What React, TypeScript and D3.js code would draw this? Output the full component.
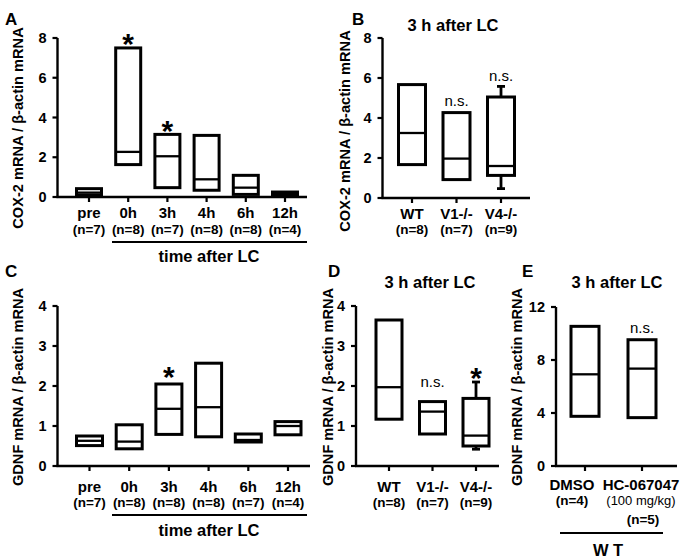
import React from "react";
import * as d3 from "d3";

// ---------- DATA ----------
const timeCats = ["pre", "0h", "3h", "4h", "6h", "12h"];

const A_n = ["(n=7)", "(n=8)", "(n=7)", "(n=8)", "(n=8)", "(n=4)"];
const A_q1 = [0.1, 1.63, 0.47, 0.34, 0.13, 0.08];
const A_med = [0.22, 2.27, 2.05, 0.89, 0.47, 0.17];
const A_q3 = [0.42, 7.5, 3.15, 3.1, 1.09, 0.25];
const A_sig = ["", "*", "*", "", "", ""];
const A_ticks = [0, 2, 4, 6, 8];

const B_cats = ["WT", "V1-/-", "V4-/-"];
const B_n = ["(n=8)", "(n=7)", "(n=9)"];
const B_q1 = [1.67, 0.92, 1.13];
const B_med = [3.25, 1.97, 1.6];
const B_q3 = [5.67, 4.27, 5.05];
const B_lo = [null, null, 0.47];
const B_hi = [null, null, 5.58];
const B_sig = ["", "n.s.", "n.s."];
const B_ticks = [0, 2, 4, 6, 8];

const C_n = ["(n=7)", "(n=8)", "(n=8)", "(n=8)", "(n=7)", "(n=4)"];
const C_q1 = [0.51, 0.43, 0.79, 0.73, 0.6, 0.78];
const C_med = [0.63, 0.61, 1.43, 1.47, 0.65, 1.0];
const C_q3 = [0.75, 1.03, 2.05, 2.57, 0.8, 1.11];
const C_sig = ["", "", "*", "", "", ""];
const C_ticks = [0, 1, 2, 3, 4];

const D_cats = ["WT", "V1-/-", "V4-/-"];
const D_n = ["(n=8)", "(n=7)", "(n=9)"];
const D_q1 = [1.17, 0.8, 0.5];
const D_med = [1.97, 1.36, 0.76];
const D_q3 = [3.65, 1.61, 1.69];
const D_lo = [null, null, 0.42];
const D_hi = [null, null, 2.1];
const D_sig = ["", "n.s.", "*"];
const D_ticks = [0, 1, 2, 3, 4];

const E_cats = ["DMSO", "HC-067047"];
const E_sub = ["(n=4)", "(100 mg/kg)"];
const E_n = ["", "(n=5)"];
const E_q1 = [3.75, 3.65];
const E_med = [6.92, 7.35];
const E_q3 = [10.54, 9.53];
const E_sig = ["", "n.s."];
const E_ticks = [0, 4, 8, 12];

const FONT = "'Liberation Sans', Arial, Helvetica, sans-serif";

type PanelProps = {
  cats: string[];
  q1: number[];
  med: number[];
  q3: number[];
  lo?: (number | null)[];
  hi?: (number | null)[];
  sig: string[];
  sigGap: number[];
  ticks: number[];
  yMax: number;
  axisX: number;
  axisEnd: number;
  yTop: number;
  yBottom: number;
  firstC: number;
  lastC: number;
  boxW: number;
};

function BoxPanel(p: PanelProps) {
  const y = d3.scaleLinear().domain([0, p.yMax]).range([p.yBottom, p.yTop]);
  const x = d3.scalePoint<string>().domain(p.cats).range([p.firstC, p.lastC]);
  return (
    <g>
      <line x1={p.axisX} x2={p.axisX} y1={y(p.yMax)} y2={y(0) + 1} stroke="#000" strokeWidth={2.4} />
      <line x1={p.axisX - 1} x2={p.axisEnd} y1={y(0)} y2={y(0)} stroke="#000" strokeWidth={2.4} />
      {p.ticks.map((t) => (
        <g key={"t" + t}>
          <line x1={p.axisX - 5} x2={p.axisX} y1={y(t)} y2={y(t)} stroke="#000" strokeWidth={2.2} />
          <text x={p.axisX - 11} y={y(t)} dy="0.36em" textAnchor="end" fontSize={14.5} fontWeight="bold" fontFamily={FONT}>
            {t}
          </text>
        </g>
      ))}
      {p.cats.map((c) => (
        <line key={"xt" + c} x1={x(c)} x2={x(c)} y1={y(0)} y2={y(0) + 5} stroke="#000" strokeWidth={2.2} />
      ))}
      {p.cats.map((c, i) => {
        const cx = x(c) as number;
        const w = p.boxW;
        const lo = p.lo ? p.lo[i] : null;
        const hi = p.hi ? p.hi[i] : null;
        const top = hi != null ? y(hi) : y(p.q3[i]);
        return (
          <g key={"b" + c}>
            {hi != null && (
              <g>
                <line x1={cx} x2={cx} y1={y(p.q3[i])} y2={y(hi)} stroke="#000" strokeWidth={2.8} />
                <line x1={cx - 4} x2={cx + 4} y1={y(hi)} y2={y(hi)} stroke="#000" strokeWidth={2.8} />
              </g>
            )}
            {lo != null && (
              <g>
                <line x1={cx} x2={cx} y1={y(p.q1[i])} y2={y(lo)} stroke="#000" strokeWidth={2.8} />
                <line x1={cx - 4} x2={cx + 4} y1={y(lo)} y2={y(lo)} stroke="#000" strokeWidth={2.8} />
              </g>
            )}
            <rect
              x={cx - w / 2}
              y={y(p.q3[i])}
              width={w}
              height={y(p.q1[i]) - y(p.q3[i])}
              fill="#fff"
              stroke="#000"
              strokeWidth={3}
            />
            <line x1={cx - w / 2} x2={cx + w / 2} y1={y(p.med[i])} y2={y(p.med[i])} stroke="#000" strokeWidth={2.3} />
            {p.sig[i] === "*" && (
              <text x={cx} y={top - p.sigGap[i] + 17} textAnchor="middle" fontSize={30} fontWeight="bold" fontFamily={FONT}>
                *
              </text>
            )}
            {p.sig[i] === "n.s." && (
              <text x={cx} y={top - p.sigGap[i]} textAnchor="middle" fontSize={15} fontFamily={FONT}>
                n.s.
              </text>
            )}
          </g>
        );
      })}
    </g>
  );
}

function CatLabels({ cats, sub, cx, y1, y2 }: { cats: string[]; sub: string[]; cx: (c: string) => number; y1: number; y2: number }) {
  return (
    <g fontFamily={FONT} fontWeight="bold" fontSize={13.5} textAnchor="middle">
      {cats.map((c, i) => (
        <g key={c}>
          <text x={cx(c)} y={y1} fontSize={15}>{c}</text>
          <text x={cx(c)} y={y2}>{sub[i]}</text>
        </g>
      ))}
    </g>
  );
}

function YLabel({ x, y, text }: { x: number; y: number; text: string }) {
  return (
    <text
      transform={`translate(${x},${y}) rotate(-90)`}
      dy="0.36em"
      textAnchor="middle"
      fontSize={14.6}
      fontWeight="bold"
      fontFamily={FONT}
    >
      {text}
    </text>
  );
}

export default function App() {
  const xA = d3.scalePoint<string>().domain(timeCats).range([89, 285]);
  const xC = d3.scalePoint<string>().domain(timeCats).range([89.5, 288]);
  const xB = d3.scalePoint<string>().domain(B_cats).range([412, 501]);
  const xD = d3.scalePoint<string>().domain(D_cats).range([389, 476]);
  const xE = d3.scalePoint<string>().domain(E_cats).range([585, 642]);

  const letter = (t: string, x: number, y: number) => (
    <text x={x} y={y} fontSize={17} fontWeight="bold" fontFamily={FONT}>{t}</text>
  );
  const title = (x: number, y: number) => (
    <text x={x} y={y} textAnchor="middle" fontSize={16.5} fontWeight="bold" fontFamily={FONT}>3 h after LC</text>
  );

  return (
    <svg
      width={683}
      height={559}
      style={{ position: "absolute", left: 0, top: 0, background: "#fff" }}
    >
      <rect x={0} y={0} width={683} height={559} fill="#fff" />
      {/* Panel A */}
      {letter("A", 5, 25)}
      <YLabel x={18} y={128} text="COX-2 mRNA / β-actin mRNA" />
      <BoxPanel cats={timeCats} q1={A_q1} med={A_med} q3={A_q3} sig={A_sig} sigGap={[11, 11, 10, 0, 0, 0]}
        ticks={A_ticks} yMax={8} axisX={57.5} axisEnd={307} yTop={38} yBottom={197} firstC={89} lastC={285} boxW={25} />
      <CatLabels cats={timeCats} sub={A_n} cx={(c) => xA(c) as number} y1={218} y2={234} />
      <line x1={112} x2={307} y1={242} y2={242} stroke="#000" strokeWidth={2.2} />
      <text x={209} y={262} textAnchor="middle" fontSize={16.5} fontWeight="bold" fontFamily={FONT}>time after LC</text>

      {/* Panel B */}
      {letter("B", 352, 25)}
      {title(453, 31)}
      <YLabel x={345} y={131} text="COX-2 mRNA / β-actin mRNA" />
      <BoxPanel cats={B_cats} q1={B_q1} med={B_med} q3={B_q3} lo={B_lo} hi={B_hi} sig={B_sig} sigGap={[0, 7, 5]}
        ticks={B_ticks} yMax={8} axisX={382.5} axisEnd={530} yTop={38} yBottom={198} firstC={412} lastC={501} boxW={27} />
      <CatLabels cats={B_cats} sub={B_n} cx={(c) => xB(c) as number} y1={219} y2={234} />

      {/* Panel C */}
      {letter("C", 5, 277)}
      <YLabel x={18} y={387} text="GDNF mRNA / β-actin mRNA" />
      <BoxPanel cats={timeCats} q1={C_q1} med={C_med} q3={C_q3} sig={C_sig} sigGap={[0, 0, 14, 0, 0, 0]}
        ticks={C_ticks} yMax={4} axisX={57.5} axisEnd={310} yTop={306} yBottom={466} firstC={89.5} lastC={288} boxW={26} />
      <CatLabels cats={timeCats} sub={C_n} cx={(c) => xC(c) as number} y1={492} y2={507} />
      <line x1={112} x2={307} y1={515} y2={515} stroke="#000" strokeWidth={2.2} />
      <text x={209} y={536} textAnchor="middle" fontSize={16.5} fontWeight="bold" fontFamily={FONT}>time after LC</text>

      {/* Panel D */}
      {letter("D", 328, 277)}
      {title(430, 288)}
      <YLabel x={328} y={387} text="GDNF mRNA / β-actin mRNA" />
      <BoxPanel cats={D_cats} q1={D_q1} med={D_med} q3={D_q3} lo={D_lo} hi={D_hi} sig={D_sig} sigGap={[0, 15, 11]}
        ticks={D_ticks} yMax={4} axisX={356} axisEnd={499} yTop={306} yBottom={466} firstC={389} lastC={476} boxW={26} />
      <CatLabels cats={D_cats} sub={D_n} cx={(c) => xD(c) as number} y1={492} y2={507} />

      {/* Panel E */}
      {letter("E", 522, 277)}
      {title(617, 288)}
      <YLabel x={517} y={387} text="GDNF mRNA / β-actin mRNA" />
      <BoxPanel cats={E_cats} q1={E_q1} med={E_med} q3={E_q3} sig={E_sig} sigGap={[0, 7]}
        ticks={E_ticks} yMax={12} axisX={556} axisEnd={677} yTop={307} yBottom={466} firstC={585} lastC={642} boxW={28} />
      <g fontFamily={FONT} textAnchor="middle">
        {E_cats.map((c, i) => (
          <g key={c}>
            <text x={(xE(c) as number) + (i === 0 ? -13 : -1)} y={490} fontSize={15} fontWeight="bold">{c}</text>
            <text x={(xE(c) as number) + (i === 0 ? -13 : -1)} y={505} fontSize={i === 0 ? 13.5 : 13} fontWeight={i === 0 ? "bold" : "normal"}>{E_sub[i]}</text>
            {E_n[i] && <text x={(xE(c) as number) + 1} y={524} fontSize={13.5} fontWeight="bold">{E_n[i]}</text>}
          </g>
        ))}
      </g>
      <line x1={560} x2={663} y1={533} y2={533} stroke="#000" strokeWidth={2.2} />
      <text x={608} y={556} textAnchor="middle" fontSize={16.5} fontWeight="bold" fontFamily={FONT}>W T</text>
    </svg>
  );
}
